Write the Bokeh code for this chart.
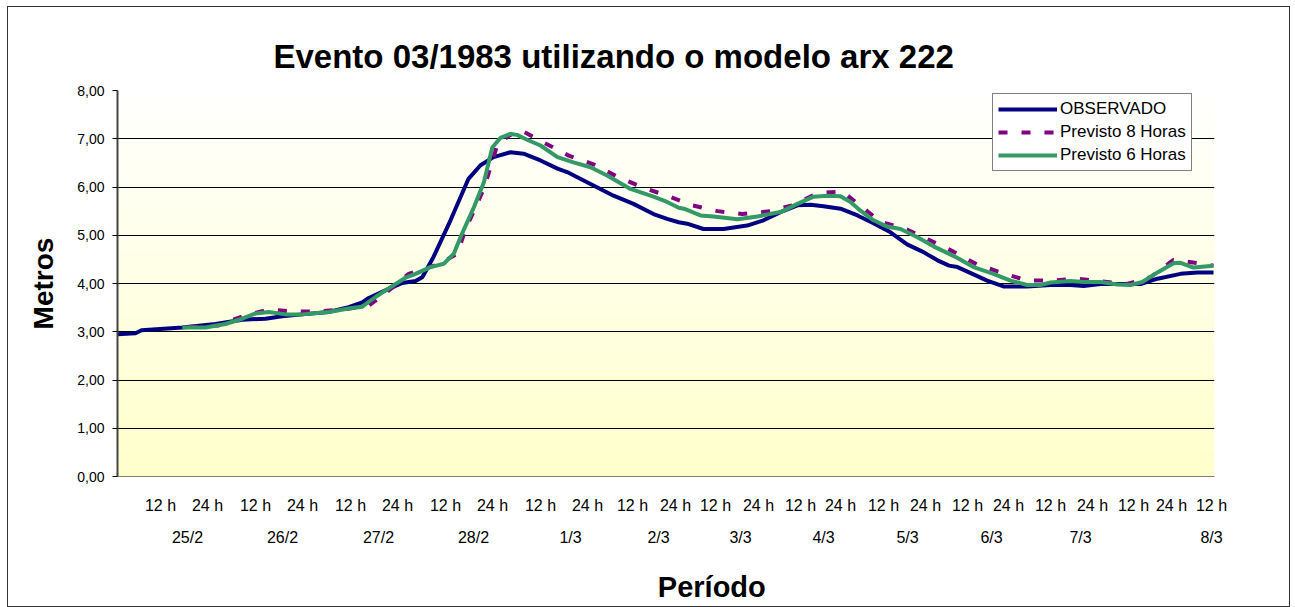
import numpy as np
from bokeh.plotting import figure
from bokeh.layouts import column
from bokeh.models import Range1d, LinearAxis, FixedTicker, CustomJSTickFormatter
from bokeh.core.properties import value
from bokeh.embed import file_html
from bokeh.resources import INLINE

# ---------------- data (x = hours from the start of the axis) ----------------
obs_h = [0, 4.5, 6, 16.2, 24.5, 31.2, 37, 41.2, 46.2, 52.8, 57.8, 61.2, 62.8, 67.8, 71.2,
         74.5, 76.2, 79, 83.25, 87.75, 90.75, 94, 98.25, 101.5, 105.75, 110, 112.4, 117.4,
         124, 129, 134, 137.4, 140.3, 142.4, 146.5, 151.5, 157.4, 161.5, 165.75, 170,
         173.25, 176.5, 180.75, 185, 189, 193.25, 197.4, 201.5, 205, 207.9, 210, 214,
         217.4, 221.5, 227.4, 233.25, 238.25, 241.5, 245.75, 250.75, 255.75, 260, 265.75,
         270, 274]
obs_v = [2.95, 2.97, 3.03, 3.09, 3.16, 3.25, 3.27, 3.32, 3.36, 3.41, 3.51, 3.61, 3.70, 3.89, 4.01,
         4.05, 4.13, 4.55, 5.31, 6.17, 6.45, 6.62, 6.72, 6.69, 6.55, 6.38, 6.31, 6.10,
         5.82, 5.65, 5.44, 5.34, 5.27, 5.24, 5.13, 5.13, 5.20, 5.31, 5.48, 5.62,
         5.63, 5.60, 5.55, 5.41, 5.25, 5.06, 4.81, 4.65, 4.48, 4.37, 4.34, 4.19,
         4.06, 3.94, 3.94, 3.97, 3.97, 3.95, 3.99, 3.99, 3.99, 4.10, 4.20,
         4.23, 4.23]

p8_h = [17.75, 25.25, 31.2, 37.8, 43.7, 50.3, 57, 62.8, 67.75, 72.8, 80, 85, 87, 89.5, 91.75,
        95, 100.3, 106.6, 112.8, 119, 125.3, 131.6, 137.4, 143.7, 150, 156.2, 162.4, 168.7,
        175, 181.2, 186.2, 190.75, 197.4, 203.25, 209, 215, 221.2, 227.4, 233.7, 240,
        246.2, 252.4, 258.25, 264, 270.3, 274]
p8_v = [3.10, 3.13, 3.32, 3.46, 3.42, 3.42, 3.47, 3.54, 3.85, 4.20, 4.39, 4.62, 5.13, 5.57, 6.00,
        6.89, 7.20, 6.92, 6.65, 6.47, 6.20, 5.98, 5.82, 5.62, 5.50, 5.44, 5.49, 5.62,
        5.87, 5.91, 5.58, 5.28, 5.12, 4.89, 4.66, 4.39, 4.22, 4.06, 4.06, 4.10,
        4.04, 3.99, 4.13, 4.49, 4.42, 4.37]

p6_h = [16.2, 22, 27, 31.2, 34.5, 37.8, 42, 46.2, 52.8, 57.8, 61.2, 64.5, 67.8, 72, 74.5,
        78.25, 81.6, 84.1, 85.75, 89.1, 91.6, 93.7, 95.75, 98.25, 99.9, 102.4, 105.75, 110,
        114, 118.25, 122.4, 128.25, 134, 137.4, 140.3, 141.6, 145.75, 149, 155, 160,
        165.75, 170, 174, 177.4, 180.75, 183.25, 185.75, 189, 192.4, 195.75, 200, 204,
        207.8, 210, 214, 219, 223.25, 227.4, 230.75, 233.25, 238.25, 241.6, 245.75, 250,
        253.25, 256.2, 260, 264, 265.75, 269, 274]
p6_v = [3.09, 3.09, 3.16, 3.27, 3.38, 3.41, 3.36, 3.36, 3.41, 3.48, 3.52, 3.72, 3.90, 4.12, 4.20,
        4.34, 4.41, 4.62, 4.96, 5.58, 6.10, 6.82, 7.02, 7.10, 7.08, 6.98, 6.86, 6.62,
        6.51, 6.41, 6.24, 5.96, 5.80, 5.69, 5.57, 5.55, 5.41, 5.39, 5.33, 5.39,
        5.48, 5.65, 5.80, 5.82, 5.81, 5.69, 5.51, 5.31, 5.18, 5.13, 4.96, 4.77,
        4.62, 4.53, 4.34, 4.20, 4.06, 3.97, 3.97, 4.02, 4.05, 4.03, 4.03, 3.98,
        3.97, 4.03, 4.23, 4.42, 4.43, 4.33, 4.37]

hour_tick_pos = [10.75, 22.5, 34.5, 46.25, 58.25, 70, 82, 93.75, 105.75, 117.5, 128.75, 139.5,
                 149.5, 160.25, 170.75, 180.75, 191.5, 202, 212.5, 222.75, 233.25, 243.75,
                 254, 263.5, 273.5]
hour_tick_lab = ["12 h", "24 h"] * 12 + ["12 h"]

day_tick_pos = [17.5, 41.25, 65.25, 89, 113.25, 135.25, 155.75, 176.5, 197.5, 218.5, 240.75, 273.5]
day_tick_lab = ["25/2", "26/2", "27/2", "28/2", "1/3", "2/3", "3/3", "4/3", "5/3", "6/3", "7/3", "8/3"]

y_ticks = [0, 1, 2, 3, 4, 5, 6, 7, 8]

X_MAX = 274.25
Y_MAX = 8
FONT = "Liberation Sans"
W = 1281

p = figure(width=W, height=549, output_backend="svg", toolbar_location=None,
           x_range=Range1d(0, X_MAX), y_range=Range1d(0, Y_MAX),
           min_border_left=109, min_border_right=75, min_border_top=83, min_border_bottom=80,
           title="Evento 03/1983 utilizando o modelo arx 222")
p.outline_line_color = None
p.background_fill_color = "white"
p.border_fill_color = "white"

# title
p.title.text_font = FONT
p.title.text_font_size = "33px"
p.title.text_font_style = "bold"
p.title.text_color = "black"
p.title.align = "left"
p.title.offset = 156
p.title.standoff = 32

# background gradient (pale yellow bottom -> white top)
n = 120
img = np.empty((n, 1), dtype=np.uint32)
view = img.view(dtype=np.uint8).reshape((n, 1, 4))
view[:, 0, 0] = 255
view[:, 0, 1] = 255
view[:, 0, 2] = np.linspace(204, 255, n).astype(np.uint8)
view[:, 0, 3] = 255
p.image_rgba(image=[img], x=0, y=0, dw=X_MAX, dh=Y_MAX, level="image")

# grid
p.xgrid.visible = False
p.ygrid.ticker = FixedTicker(ticks=y_ticks)
p.ygrid.grid_line_color = "black"
p.ygrid.grid_line_width = 1

# y axis
yax = p.yaxis[0]
yax.ticker = FixedTicker(ticks=y_ticks)
yax.formatter = CustomJSTickFormatter(code="return tick.toFixed(2).replace('.', ',');")
yax.major_tick_out = 5
yax.major_tick_in = 0
yax.minor_tick_out = 0
yax.minor_tick_in = 0
yax.axis_line_color = "#444444"
yax.axis_line_width = 2
yax.major_tick_line_color = "black"
yax.major_label_text_font = FONT
yax.major_label_text_font_size = "14px"
yax.major_label_text_color = "black"
yax.major_label_standoff = 8
yax.axis_label = "Metros"
yax.axis_label_text_font = FONT
yax.axis_label_text_font_size = "28px"
yax.axis_label_text_font_style = "bold"
yax.axis_label_text_color = "black"
yax.axis_label_standoff = 15

# x axis 1: hours
xax = p.xaxis[0]
xax.ticker = FixedTicker(ticks=hour_tick_pos)
xax.formatter = CustomJSTickFormatter(args=dict(pos=hour_tick_pos, lab=hour_tick_lab),
                                      code="const i = pos.indexOf(tick); return i >= 0 ? lab[i] : '';")
xax.major_tick_out = 0
xax.major_tick_in = 0
xax.minor_tick_out = 0
xax.minor_tick_in = 0
xax.axis_line_color = "#808080"
xax.axis_line_width = 1
xax.major_label_text_font = FONT
xax.major_label_text_font_size = "16px"
xax.major_label_text_color = "black"
xax.major_label_standoff = 20

# x axis 2: days
dax = LinearAxis(ticker=FixedTicker(ticks=day_tick_pos),
                 formatter=CustomJSTickFormatter(args=dict(pos=day_tick_pos, lab=day_tick_lab),
                                                 code="const i = pos.indexOf(tick); return i >= 0 ? lab[i] : '';"),
                 major_tick_out=0, major_tick_in=0, minor_tick_out=0, minor_tick_in=0,
                 axis_line_color=None,
                 major_label_text_font=FONT, major_label_text_font_size="16px",
                 major_label_text_color="black", major_label_standoff=12)
p.add_layout(dax, "below")

# series
p.line(obs_h, obs_v, line_color="#000080", line_width=4, line_join="round",
       legend_label="OBSERVADO")
p.line(p8_h, p8_v, line_color="#800080", line_width=4, line_dash="9 14",
       legend_label="Previsto 8 Horas")
p.line(p6_h, p6_v, line_color="#339966", line_width=4, line_join="round",
       legend_label="Previsto 6 Horas")

lg = p.legend[0]
lg.location = (875, 305)
lg.margin = 0
lg.padding = 5
lg.spacing = 3
lg.glyph_width = 59
lg.glyph_height = 20
lg.label_height = 20
lg.label_standoff = 3
lg.label_text_font = FONT
lg.label_text_font_size = "17px"
lg.label_text_color = "black"
lg.border_line_color = "black"
lg.border_line_width = 1
lg.background_fill_color = "white"
lg.background_fill_alpha = 1.0

# strip below the chart holding the x-axis title
H2 = 50
p2 = figure(width=W, height=H2, output_backend="svg", toolbar_location=None,
            x_range=Range1d(0, W), y_range=Range1d(0, H2),
            x_axis_type=None, y_axis_type=None,
            min_border_left=0, min_border_right=0, min_border_top=0, min_border_bottom=0)
p2.outline_line_color = None
p2.background_fill_color = "white"
p2.border_fill_color = "white"
p2.xgrid.visible = False
p2.ygrid.visible = False
p2.text(x=[694], y=[20], text=["Período"], text_font=value(FONT), text_font_size="29px",
        text_font_style="bold", text_align="center", text_baseline="middle", text_color="black")

layout = column(p, p2, spacing=0)
layout.styles = {"border": "1px solid #333333", "margin-left": "7px", "margin-top": "6px"}

open("out.html", "w").write(file_html(layout, INLINE))
